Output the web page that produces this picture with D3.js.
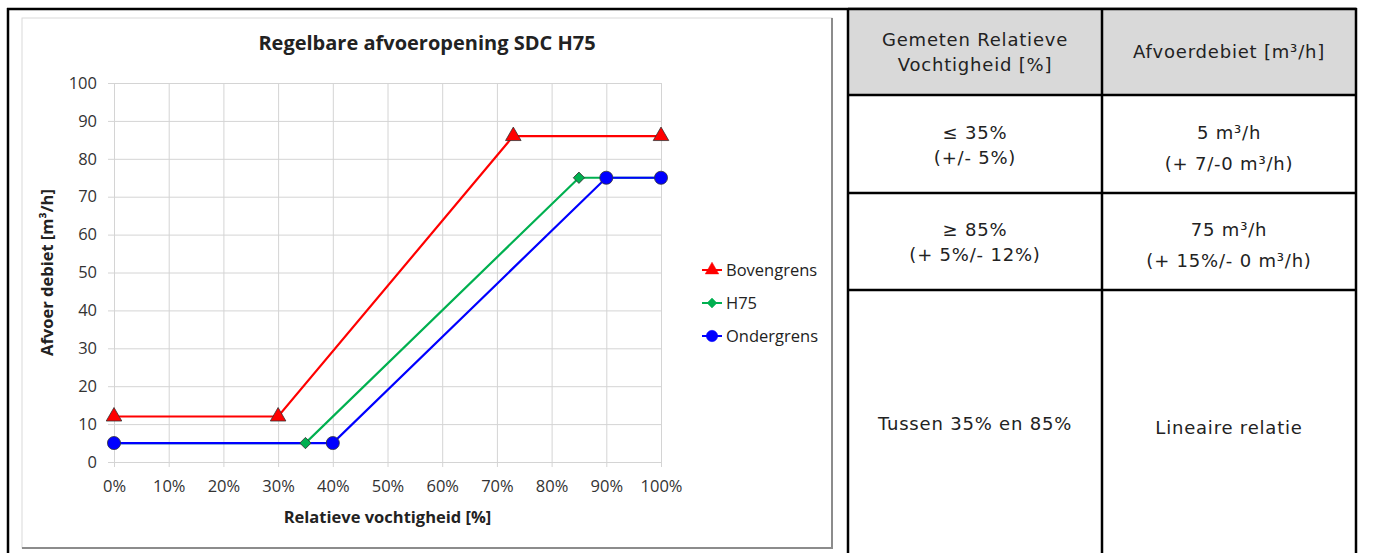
<!DOCTYPE html>
<html lang="nl">
<head>
<meta charset="UTF-8">
<title>Regelbare afvoeropening SDC H75</title>
<script src="https://d3js.org/d3.v7.min.js"></script>
<style>
  body { margin: 0; background: #fff; }
  svg { display: block; }
  .grid line { stroke: #d4d4d4; stroke-width: 1px; }
  .tick text { font-family: "Open Sans", sans-serif; font-size: 16.5px; fill: #333; }
  .tbl { font-family: "DejaVu Sans", sans-serif; font-size: 18px; letter-spacing: 0.8px; fill: #222; }
</style>
</head>
<body>
<script>
// chart data
const xTicks = [0, 10, 20, 30, 40, 50, 60, 70, 80, 90, 100];
const yTicks = [0, 10, 20, 30, 40, 50, 60, 70, 80, 90, 100];
const seriesNames = ["Bovengrens", "H75", "Ondergrens"];
const bovengrensX = [0, 30, 73, 100];
const bovengrensY = [12, 12, 86, 86];
const h75X = [0, 35, 85, 100];
const h75Y = [5, 5, 75, 75];
const ondergrensX = [0, 40, 90, 100];
const ondergrensY = [5, 5, 75, 75];

// table data
const headerRow = [["Gemeten Relatieve", "Vochtigheid [%]"], ["Afvoerdebiet [m³/h]"]];
const bodyRows = [
  [["≤ 35%", "(+/- 5%)"], ["5 m³/h", "(+ 7/-0 m³/h)"]],
  [["≥ 85%", "(+ 5%/- 12%)"], ["75 m³/h", "(+ 15%/- 0 m³/h)"]],
  [["Tussen 35% en 85%"], ["Lineaire relatie"]]
];

const W = 1384, H = 553;
const svg = d3.select("body").append("svg").attr("width", W).attr("height", H);

// chart area box (excel style)
svg.append("rect").attr("x", 22).attr("y", 18).attr("width", 810).attr("height", 530)
  .attr("fill", "#fff").attr("stroke", "#d9d9d9");
svg.append("line").attr("x1", 832).attr("x2", 832).attr("y1", 18).attr("y2", 549)
  .attr("stroke", "#8c8c8c").attr("stroke-width", 2);
svg.append("line").attr("x1", 22).attr("x2", 833).attr("y1", 548).attr("y2", 548)
  .attr("stroke", "#8c8c8c").attr("stroke-width", 2);

const plot = { left: 114, right: 661, top: 83, bottom: 462 };
const x = d3.scaleLinear().domain([0, 100]).range([plot.left, plot.right]);
const y = d3.scaleLinear().domain([0, 100]).range([plot.bottom, plot.top]);

// gridlines via axes
svg.append("g").attr("class", "grid")
  .attr("transform", `translate(0,${plot.bottom})`)
  .call(d3.axisBottom(x).tickValues(xTicks).tickSize(-(plot.bottom - plot.top)).tickFormat(""))
  .call(g => g.select(".domain").remove());
svg.append("g").attr("class", "grid")
  .attr("transform", `translate(${plot.left},0)`)
  .call(d3.axisLeft(y).tickValues(yTicks).tickSize(-(plot.right - plot.left)).tickFormat(""))
  .call(g => g.select(".domain").remove());

// axes with outer ticks + labels
svg.append("g").attr("class", "grid")
  .attr("transform", `translate(0,${plot.bottom})`)
  .call(d3.axisBottom(x).tickValues(xTicks).tickSize(5).tickPadding(13).tickFormat(d => d + "%"))
  .call(g => g.select(".domain").remove());
svg.append("g").attr("class", "grid")
  .attr("transform", `translate(${plot.left},0)`)
  .call(d3.axisLeft(y).tickValues(yTicks).tickSize(6).tickPadding(11))
  .call(g => g.select(".domain").remove());

// titles
svg.append("text").attr("x", 427).attr("y", 50).attr("text-anchor", "middle")
  .attr("font-family", "Open Sans, sans-serif").attr("font-weight", "bold")
  .attr("font-size", 20).attr("fill", "#222").text("Regelbare afvoeropening SDC H75");
svg.append("text").attr("x", (plot.left + plot.right) / 2).attr("y", 523).attr("text-anchor", "middle")
  .attr("font-family", "Open Sans, sans-serif").attr("font-weight", "bold")
  .attr("font-size", 16.5).attr("fill", "#222").text("Relatieve vochtigheid [%]");
svg.append("text").attr("transform", `translate(53,${(plot.top + plot.bottom) / 2}) rotate(-90)`)
  .attr("text-anchor", "middle")
  .attr("font-family", "Open Sans, sans-serif").attr("font-weight", "bold")
  .attr("font-size", 16.5).attr("fill", "#222").text("Afvoer debiet [m³/h]");

// series
const series = [
  { name: seriesNames[0], xs: bovengrensX, ys: bovengrensY, color: "#ff0000", symbol: d3.symbolTriangle, size: 105, rot: 0 },
  { name: seriesNames[1], xs: h75X, ys: h75Y, color: "#00b050", symbol: d3.symbolSquare, size: 64, rot: 45 },
  { name: seriesNames[2], xs: ondergrensX, ys: ondergrensY, color: "#0000ff", symbol: d3.symbolCircle, size: 135, rot: 0 }
];
const line = d3.line().x(d => x(d[0])).y(d => y(d[1]));

series.forEach(s => {
  const pts = s.xs.map((v, i) => [v, s.ys[i]]);
  svg.append("path").datum(pts).attr("d", line)
    .attr("fill", "none").attr("stroke", s.color).attr("stroke-width", 2.2);
});
series.forEach(s => {
  const pts = s.xs.map((v, i) => [v, s.ys[i]]);
  svg.append("g").selectAll("path").data(pts).join("path")
    .attr("transform", d => `translate(${x(d[0])},${y(d[1])}) rotate(${s.rot})`)
    .attr("d", d3.symbol().type(s.symbol).size(s.size))
    .attr("fill", s.color).attr("stroke", "#333").attr("stroke-width", 0.8);
});

// legend
const legend = svg.append("g");
series.forEach((s, i) => {
  const ly = 270 + i * 33;
  legend.append("line").attr("x1", 702).attr("x2", 722).attr("y1", ly).attr("y2", ly)
    .attr("stroke", s.color).attr("stroke-width", 2);
  legend.append("path").attr("transform", `translate(712,${ly}) rotate(${s.rot})`)
    .attr("d", d3.symbol().type(s.symbol).size(s.size * 0.75))
    .attr("fill", s.color).attr("stroke", s.color).attr("stroke-width", 0.5);
  legend.append("text").attr("x", 726).attr("y", ly + 6)
    .attr("font-family", "Open Sans, sans-serif").attr("font-size", 16.5).attr("fill", "#222")
    .text(s.name);
});

// outer frame around chart
svg.append("line").attr("x1", 8).attr("x2", 8).attr("y1", 8).attr("y2", H)
  .attr("stroke", "#000").attr("stroke-width", 2.5);
svg.append("line").attr("x1", 7).attr("x2", 1357).attr("y1", 9).attr("y2", 9)
  .attr("stroke", "#000").attr("stroke-width", 2.5);

// table
const colX = [848, 1102, 1356];
const rowY = [9, 95, 193, 290, H + 5];
svg.append("rect").attr("x", colX[0]).attr("y", rowY[0])
  .attr("width", colX[2] - colX[0]).attr("height", rowY[1] - rowY[0]).attr("fill", "#d9d9d9");
colX.forEach(cx => svg.append("line").attr("x1", cx).attr("x2", cx).attr("y1", 8).attr("y2", H)
  .attr("stroke", "#000").attr("stroke-width", 2.5));
rowY.slice(0, 4).forEach(ry => svg.append("line").attr("x1", colX[0]).attr("x2", colX[2])
  .attr("y1", ry).attr("y2", ry).attr("stroke", "#000").attr("stroke-width", 2.5));

const cellText = (lines, c, r0, r1, gap, dy) => {
  const cx = (colX[c] + colX[c + 1]) / 2;
  const cy = (rowY[r0] + r1) / 2 + (dy || 0);
  lines.forEach((t, i) => {
    svg.append("text").attr("class", "tbl").attr("x", cx)
      .attr("y", cy + (i - (lines.length - 1) / 2) * gap + 6)
      .attr("text-anchor", "middle").text(t);
  });
};
cellText(headerRow[0], 0, 0, rowY[1], 25);
cellText(headerRow[1], 1, 0, rowY[1], 25);
bodyRows.forEach((row, i) => {
  const r1 = i < 2 ? rowY[i + 2] : 553;
  cellText(row[0], 0, i + 1, r1, 25, i === 2 ? 2 : 1);
  cellText(row[1], 1, i + 1, r1, i < 2 ? 31 : 25, i === 2 ? 6 : 4);
});
</script>
</body>
</html>
